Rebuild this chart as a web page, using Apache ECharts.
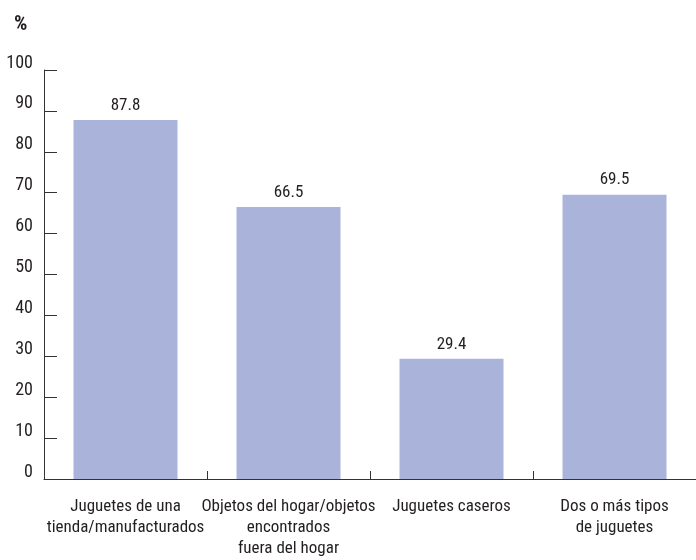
<!DOCTYPE html>
<html><head><meta charset="utf-8">
<script src="https://cdn.jsdelivr.net/npm/echarts@6/dist/echarts.min.js"></script>
<style>html,body{margin:0;padding:0;background:#fff}#c{width:696px;height:560px}</style>
</head><body><div id="c"></div>
<script>
const categories = ["Juguetes de una\ntienda/manufacturados", "Objetos del hogar/objetos\nencontrados\nfuera del hogar", "Juguetes caseros", "Dos o más tipos\nde juguetes"];
const values = [87.8, 66.5, 29.4, 69.5];
const yTicks = [0, 10, 20, 30, 40, 50, 60, 70, 80, 90, 100];
const FONT = "'Liberation Sans Narrow', 'Roboto Condensed', sans-serif";
const chart = echarts.init(document.getElementById('c'));
chart.setOption({
  animation: false,
  grid: {left: 44, top: 70, width: 655, bottom: 81, containLabel: false},
  graphic: [{type: 'text', left: 14, top: 14, style: {text: '%', fontSize: 21, fontWeight: 'bold', fontFamily: FONT, fill: '#231f20'}}],
  xAxis: {
    type: 'category', data: categories,
    axisLine: {lineStyle: {color: '#333', width: 1}},
    axisTick: {show: true, inside: true, length: 8, alignWithLabel: false, lineStyle: {color: '#333'}},
    axisLabel: {color: '#231f20', fontFamily: FONT, fontSize: 17, lineHeight: 21, margin: 17, interval: 0}
  },
  yAxis: {
    type: 'value', min: yTicks[0], max: yTicks[yTicks.length - 1], interval: 10,
    axisLine: {show: true, lineStyle: {color: '#333', width: 1}},
    axisTick: {show: true, inside: true, length: 13, lineStyle: {color: '#333'}},
    splitLine: {show: false},
    axisLabel: {color: '#231f20', fontFamily: FONT, fontSize: 18, margin: 11, verticalAlign: 'bottom', lineHeight: 14}
  },
  series: [{
    type: 'bar', data: values, barWidth: 104,
    itemStyle: {color: '#aab3d9'},
    label: {show: true, position: 'top', distance: 6, color: '#231f20', fontFamily: FONT, fontSize: 17, fontWeight: 'normal', formatter: p => p.value.toFixed(1)}
  }]
});
</script></body></html>
